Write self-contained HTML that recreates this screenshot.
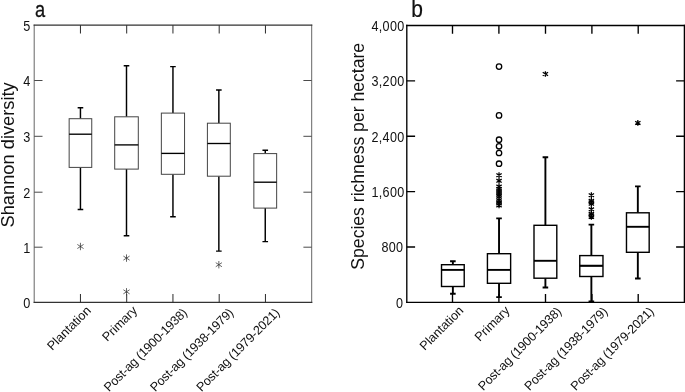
<!DOCTYPE html>
<html><head><meta charset="utf-8"><title>Figure</title>
<style>
html,body{margin:0;padding:0;background:#fff;}
svg{display:block;}
text{font-family:"Liberation Sans", Arial, sans-serif;fill:#111;}
</style></head><body>
<svg width="685" height="392" viewBox="0 0 685 392">
<rect width="685" height="392" fill="#fff"/>

<path d="M34.2 25.2V302.3M311.7 25.2V302.3" fill="none" stroke="#666" stroke-width="1.0" stroke-linecap="square"/>
<path d="M34.2 25.2H311.7M34.2 302.3H311.7" fill="none" stroke="#333" stroke-width="1.25" stroke-linecap="square"/>
<path d="M80.45 25.2v8.3M80.45 302.3v-8.3" stroke="#2a2a2a" stroke-width="1.0" fill="none"/>
<path d="M126.70 25.2v8.3M126.70 302.3v-8.3" stroke="#2a2a2a" stroke-width="1.0" fill="none"/>
<path d="M172.95 25.2v8.3M172.95 302.3v-8.3" stroke="#2a2a2a" stroke-width="1.0" fill="none"/>
<path d="M219.20 25.2v8.3M219.20 302.3v-8.3" stroke="#2a2a2a" stroke-width="1.0" fill="none"/>
<path d="M265.45 25.2v8.3M265.45 302.3v-8.3" stroke="#2a2a2a" stroke-width="1.0" fill="none"/>
<text transform="translate(30.30 307.75) scale(1 1.09)" font-size="12.7" letter-spacing="0" text-anchor="end">0</text>
<path d="M34.2 247.20h8.3M311.7 247.20h-8.3" stroke="#4a4a4a" stroke-width="1.0" fill="none"/>
<text transform="translate(30.30 252.65) scale(1 1.09)" font-size="12.7" letter-spacing="0" text-anchor="end">1</text>
<path d="M34.2 192.20h8.3M311.7 192.20h-8.3" stroke="#4a4a4a" stroke-width="1.0" fill="none"/>
<text transform="translate(30.30 197.65) scale(1 1.09)" font-size="12.7" letter-spacing="0" text-anchor="end">2</text>
<path d="M34.2 136.30h8.3M311.7 136.30h-8.3" stroke="#4a4a4a" stroke-width="1.0" fill="none"/>
<text transform="translate(30.30 141.75) scale(1 1.09)" font-size="12.7" letter-spacing="0" text-anchor="end">3</text>
<path d="M34.2 80.50h8.3M311.7 80.50h-8.3" stroke="#4a4a4a" stroke-width="1.0" fill="none"/>
<text transform="translate(30.30 85.95) scale(1 1.09)" font-size="12.7" letter-spacing="0" text-anchor="end">4</text>
<text transform="translate(30.30 30.65) scale(1 1.09)" font-size="12.7" letter-spacing="0" text-anchor="end">5</text>
<path d="M80.45 107.7V118.7M80.45 167.4V209.4M77.65 107.7h5.6M77.65 209.4h5.6" stroke="#000" stroke-width="1.45" fill="none"/>
<rect x="69.15" y="118.7" width="22.6" height="48.70" fill="#fff" stroke="#444" stroke-width="1.0"/>
<path d="M69.15 134.2h22.6" stroke="#000" stroke-width="1.35" fill="none"/>
<path d="M80.45 242.80V250.20M77.35 244.48L83.55 248.52M77.35 248.52L83.55 244.48" stroke="#333" stroke-width="0.75" fill="none"/>
<path d="M126.50 65.8V116.8M126.50 169.1V235.8M123.70 65.8h5.6M123.70 235.8h5.6" stroke="#000" stroke-width="1.45" fill="none"/>
<rect x="114.70" y="116.8" width="23.6" height="52.30" fill="#fff" stroke="#444" stroke-width="1.0"/>
<path d="M114.70 144.9h23.6" stroke="#000" stroke-width="1.35" fill="none"/>
<path d="M126.50 254.40V261.80M123.40 256.08L129.60 260.12M123.40 260.12L129.60 256.08" stroke="#333" stroke-width="0.75" fill="none"/>
<path d="M126.50 288.10V295.50M123.40 289.78L129.60 293.82M123.40 293.82L129.60 289.78" stroke="#333" stroke-width="0.75" fill="none"/>
<path d="M172.95 66.6V113.1M172.95 174.3V216.7M170.15 66.6h5.6M170.15 216.7h5.6" stroke="#000" stroke-width="1.45" fill="none"/>
<rect x="161.35" y="113.1" width="23.2" height="61.20" fill="#fff" stroke="#444" stroke-width="1.0"/>
<path d="M161.35 153.4h23.2" stroke="#000" stroke-width="1.35" fill="none"/>
<path d="M218.85 89.9V123.2M218.85 176.2V251.1M216.05 89.9h5.6M216.05 251.1h5.6" stroke="#000" stroke-width="1.45" fill="none"/>
<rect x="207.40" y="123.2" width="22.9" height="53.00" fill="#fff" stroke="#444" stroke-width="1.0"/>
<path d="M207.40 143.5h22.9" stroke="#000" stroke-width="1.35" fill="none"/>
<path d="M218.85 261.00V268.40M215.75 262.68L221.95 266.72M215.75 266.72L221.95 262.68" stroke="#333" stroke-width="0.75" fill="none"/>
<path d="M265.25 150.3V153.6M265.25 208.1V241.6M262.45 150.3h5.6M262.45 241.6h5.6" stroke="#000" stroke-width="1.45" fill="none"/>
<rect x="253.85" y="153.6" width="22.8" height="54.50" fill="#fff" stroke="#444" stroke-width="1.0"/>
<path d="M253.85 182.2h22.8" stroke="#000" stroke-width="1.35" fill="none"/>
<path d="M406.8 25.5V302.4M684.4 25.5V302.4" fill="none" stroke="#000" stroke-width="1.35" stroke-linecap="square"/>
<path d="M406.8 25.5H684.4M406.8 302.4H684.4" fill="none" stroke="#000" stroke-width="1.35" stroke-linecap="square"/>
<path d="M452.50 25.5v8.3M452.50 302.4v-8.3" stroke="#000" stroke-width="1.35" fill="none"/>
<path d="M498.90 25.5v8.3M498.90 302.4v-8.3" stroke="#000" stroke-width="1.35" fill="none"/>
<path d="M545.50 25.5v8.3M545.50 302.4v-8.3" stroke="#000" stroke-width="1.35" fill="none"/>
<path d="M591.90 25.5v8.3M591.90 302.4v-8.3" stroke="#000" stroke-width="1.35" fill="none"/>
<path d="M638.20 25.5v8.3M638.20 302.4v-8.3" stroke="#000" stroke-width="1.35" fill="none"/>
<text transform="translate(403.30 307.85) scale(1 1.09)" font-size="12.6" letter-spacing="0.3" text-anchor="end">0</text>
<path d="M406.8 247.02h8.3M684.4 247.02h-8.3" stroke="#000" stroke-width="1.35" fill="none"/>
<text transform="translate(403.30 252.47) scale(1 1.09)" font-size="12.6" letter-spacing="0.3" text-anchor="end">800</text>
<path d="M406.8 191.64h8.3M684.4 191.64h-8.3" stroke="#000" stroke-width="1.35" fill="none"/>
<text transform="translate(404.50 197.09) scale(1 1.09)" font-size="12.6" letter-spacing="0.3" text-anchor="end">1,600</text>
<path d="M406.8 136.26h8.3M684.4 136.26h-8.3" stroke="#000" stroke-width="1.35" fill="none"/>
<text transform="translate(404.50 141.71) scale(1 1.09)" font-size="12.6" letter-spacing="0.3" text-anchor="end">2,400</text>
<path d="M406.8 80.88h8.3M684.4 80.88h-8.3" stroke="#000" stroke-width="1.35" fill="none"/>
<text transform="translate(404.50 86.33) scale(1 1.09)" font-size="12.6" letter-spacing="0.3" text-anchor="end">3,200</text>
<text transform="translate(404.50 30.95) scale(1 1.09)" font-size="12.6" letter-spacing="0.3" text-anchor="end">4,000</text>
<path d="M452.87 261.2V264.7M452.87 286.5V293.8M450.07 261.2h5.6M450.07 293.8h5.6" stroke="#000" stroke-width="1.9" fill="none"/>
<rect x="441.52" y="264.7" width="22.7" height="21.80" fill="#fff" stroke="#000" stroke-width="1.4"/>
<path d="M441.52 269.9h22.7" stroke="#000" stroke-width="1.9" fill="none"/>
<path d="M499.03 218.4V253.7M499.03 283.3V297.1M496.23 218.4h5.6M496.23 297.1h5.6" stroke="#000" stroke-width="1.9" fill="none"/>
<rect x="487.43" y="253.7" width="23.2" height="29.60" fill="#fff" stroke="#000" stroke-width="1.4"/>
<path d="M487.43 269.9h23.2" stroke="#000" stroke-width="1.9" fill="none"/>
<circle cx="499.03" cy="66.6" r="2.7" fill="none" stroke="#000" stroke-width="1.3"/>
<circle cx="499.03" cy="115.4" r="2.7" fill="none" stroke="#000" stroke-width="1.3"/>
<circle cx="499.03" cy="139.7" r="2.7" fill="none" stroke="#000" stroke-width="1.3"/>
<circle cx="499.03" cy="146.3" r="2.7" fill="none" stroke="#000" stroke-width="1.3"/>
<circle cx="499.03" cy="153.0" r="2.7" fill="none" stroke="#000" stroke-width="1.3"/>
<circle cx="499.03" cy="163.7" r="2.7" fill="none" stroke="#000" stroke-width="1.3"/>
<path d="M499.03 172.35V178.05M496.38 173.50L501.68 176.90M496.38 176.90L501.68 173.50" stroke="#000" stroke-width="1.25" fill="none"/>
<path d="M499.03 177.95V183.65M496.38 179.10L501.68 182.50M496.38 182.50L501.68 179.10" stroke="#000" stroke-width="1.25" fill="none"/>
<path d="M499.03 183.75V189.45M496.38 184.90L501.68 188.30M496.38 188.30L501.68 184.90" stroke="#000" stroke-width="1.25" fill="none"/>
<path d="M499.03 186.15V191.85M496.38 187.30L501.68 190.70M496.38 190.70L501.68 187.30" stroke="#000" stroke-width="1.25" fill="none"/>
<path d="M499.03 188.15V193.85M496.38 189.30L501.68 192.70M496.38 192.70L501.68 189.30" stroke="#000" stroke-width="1.25" fill="none"/>
<path d="M499.03 190.15V195.85M496.38 191.30L501.68 194.70M496.38 194.70L501.68 191.30" stroke="#000" stroke-width="1.25" fill="none"/>
<path d="M499.03 192.15V197.85M496.38 193.30L501.68 196.70M496.38 196.70L501.68 193.30" stroke="#000" stroke-width="1.25" fill="none"/>
<path d="M499.03 193.65V199.35M496.38 194.80L501.68 198.20M496.38 198.20L501.68 194.80" stroke="#000" stroke-width="1.25" fill="none"/>
<path d="M499.03 197.45V203.15M496.38 198.60L501.68 202.00M496.38 202.00L501.68 198.60" stroke="#000" stroke-width="1.25" fill="none"/>
<path d="M499.03 199.15V204.85M496.38 200.30L501.68 203.70M496.38 203.70L501.68 200.30" stroke="#000" stroke-width="1.25" fill="none"/>
<path d="M499.03 200.75V206.45M496.38 201.90L501.68 205.30M496.38 205.30L501.68 201.90" stroke="#000" stroke-width="1.25" fill="none"/>
<path d="M499.03 202.55V208.25M496.38 203.70L501.68 207.10M496.38 207.10L501.68 203.70" stroke="#000" stroke-width="1.25" fill="none"/>
<path d="M545.40 157.3V225.3M545.40 278.2V287.5M542.60 157.3h5.6M542.60 287.5h5.6" stroke="#000" stroke-width="1.9" fill="none"/>
<rect x="534.00" y="225.3" width="22.8" height="52.90" fill="#fff" stroke="#000" stroke-width="1.4"/>
<path d="M534.00 260.8h22.8" stroke="#000" stroke-width="1.9" fill="none"/>
<path d="M545.40 71.15V76.85M542.75 72.30L548.05 75.70M542.75 75.70L548.05 72.30" stroke="#000" stroke-width="1.3" fill="none"/>
<path d="M591.37 224.6V255.6M591.37 276.5V301.4M588.57 224.6h5.6M588.57 301.4h5.6" stroke="#000" stroke-width="1.9" fill="none"/>
<rect x="579.77" y="255.6" width="23.2" height="20.90" fill="#fff" stroke="#000" stroke-width="1.4"/>
<path d="M579.77 265.8h23.2" stroke="#000" stroke-width="2.1" fill="none"/>
<path d="M591.37 192.35V198.05M588.72 193.50L594.02 196.90M588.72 196.90L594.02 193.50" stroke="#000" stroke-width="1.25" fill="none"/>
<path d="M591.37 197.95V203.65M588.72 199.10L594.02 202.50M588.72 202.50L594.02 199.10" stroke="#000" stroke-width="1.25" fill="none"/>
<path d="M591.37 199.45V205.15M588.72 200.60L594.02 204.00M588.72 204.00L594.02 200.60" stroke="#000" stroke-width="1.25" fill="none"/>
<path d="M591.37 200.95V206.65M588.72 202.10L594.02 205.50M588.72 205.50L594.02 202.10" stroke="#000" stroke-width="1.25" fill="none"/>
<path d="M591.37 206.45V212.15M588.72 207.60L594.02 211.00M588.72 211.00L594.02 207.60" stroke="#000" stroke-width="1.25" fill="none"/>
<path d="M591.37 210.95V216.65M588.72 212.10L594.02 215.50M588.72 215.50L594.02 212.10" stroke="#000" stroke-width="1.25" fill="none"/>
<path d="M591.37 212.45V218.15M588.72 213.60L594.02 217.00M588.72 217.00L594.02 213.60" stroke="#000" stroke-width="1.25" fill="none"/>
<path d="M591.37 214.05V219.75M588.72 215.20L594.02 218.60M588.72 218.60L594.02 215.20" stroke="#000" stroke-width="1.25" fill="none"/>
<path d="M637.83 186.4V212.8M637.83 252.3V278.5M635.03 186.4h5.6M635.03 278.5h5.6" stroke="#000" stroke-width="1.9" fill="none"/>
<rect x="626.48" y="212.8" width="22.7" height="39.50" fill="#fff" stroke="#000" stroke-width="1.4"/>
<path d="M626.48 226.8h22.7" stroke="#000" stroke-width="1.9" fill="none"/>
<path d="M637.83 120.05V125.75M635.18 121.20L640.48 124.60M635.18 124.60L640.48 121.20" stroke="#000" stroke-width="1.3" fill="none"/>
<text font-size="12.6" text-anchor="end" transform="translate(91.75 311.3) rotate(-45)">Plantation</text>
<text font-size="12.6" text-anchor="end" transform="translate(138.00 311.3) rotate(-45)">Primary</text>
<text font-size="12.6" letter-spacing="-0.22" text-anchor="end" transform="translate(187.75 313.6) rotate(-45)">Post-ag (1900-1938)</text>
<text font-size="12.6" letter-spacing="-0.22" text-anchor="end" transform="translate(234.00 313.6) rotate(-45)">Post-ag (1938-1979)</text>
<text font-size="12.6" letter-spacing="-0.22" text-anchor="end" transform="translate(280.25 313.6) rotate(-45)">Post-ag (1979-2021)</text>
<text font-size="12.6" text-anchor="end" transform="translate(464.30 311.3) rotate(-45)">Plantation</text>
<text font-size="12.6" text-anchor="end" transform="translate(510.50 311.3) rotate(-45)">Primary</text>
<text font-size="12.6" letter-spacing="-0.22" text-anchor="end" transform="translate(562.00 312.40000000000003) rotate(-45)">Post-ag (1900-1938)</text>
<text font-size="12.6" letter-spacing="-0.22" text-anchor="end" transform="translate(608.20 312.40000000000003) rotate(-45)">Post-ag (1938-1979)</text>
<text font-size="12.6" letter-spacing="-0.22" text-anchor="end" transform="translate(654.50 312.40000000000003) rotate(-45)">Post-ag (1979-2021)</text>
<text font-size="18.3" text-anchor="middle" transform="translate(13.9 154.9) rotate(-90)">Shannon diversity</text>
<text font-size="17.58" text-anchor="middle" transform="translate(364.4 156.3) rotate(-90)">Species richness per hectare</text>
<text font-size="21" transform="translate(35.1 16.6) scale(0.87 1.09)" stroke="#111" stroke-width="0.25">a</text>
<text font-size="21" transform="translate(411.2 16.6) scale(1.0 1.12)" stroke="#111" stroke-width="0.2">b</text>
</svg></body></html>
